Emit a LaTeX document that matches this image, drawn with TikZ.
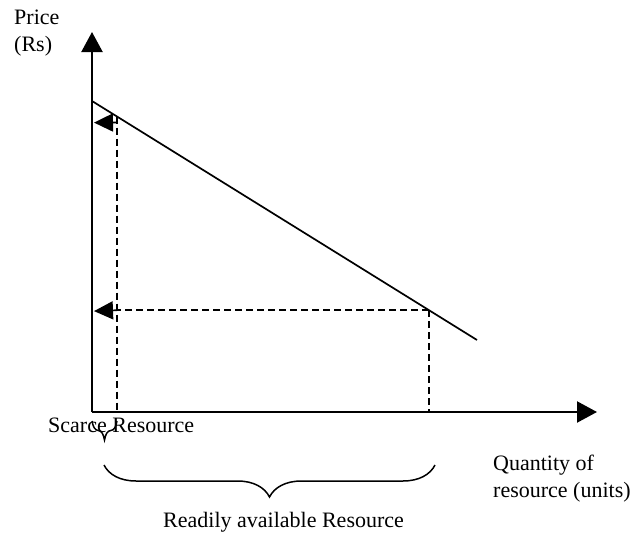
\documentclass[tikz,border=0pt]{standalone}
\usepackage{fontspec}
\setmainfont{Liberation Serif}
\usetikzlibrary{arrows.meta,calc,decorations.pathreplacing}
\begin{document}
\begin{tikzpicture}[x=1pt,y=-1pt,
  axis/.style={line width=2.2pt,-{Triangle[length=20pt,width=21pt]}},
  demand/.style={line width=1.7pt},
  guide/.style={line width=1.8pt,dash pattern=on 7pt off 4pt},
  readoff/.style={line width=1.6pt,-{Triangle[length=19pt,width=18pt]}},
  bracket/.style={line width=1.5pt,decorate,decoration={brace,mirror,amplitude=#1}},
  lbl/.style={font=\fontsize{22}{27}\selectfont,inner sep=0pt,anchor=base west,align=left}]
  \useasboundingbox (0,0) rectangle (635,533);

  % axes
  \coordinate (O) at (92,412);
  \coordinate (ytop) at (92,32);
  \coordinate (xend) at (597,412);
  \draw[axis] (O) -- (ytop);
  \draw[axis] (O) -- (xend);

  % demand line
  \coordinate (D1) at (92,101);
  \coordinate (D2) at (477,340);
  \draw[demand] (D1) -- (D2);

  % points on the line for the two quantities
  \coordinate (P1) at ($(D1)!0.0649!(D2)$);
  \coordinate (P2) at ($(D1)!0.8753!(D2)$);
  \coordinate (Q1) at (P1 |- O);
  \coordinate (Q2) at (P2 |- O);

  % dashed guides
  \draw[guide] (P1) -- (Q1);
  \draw[guide] (P2) -- (Q2);
  \draw[guide] (P2) -- (P1 |- P2);

  % price read-off arrows
  \coordinate (A1s) at ($(P1)+(0,6)$);
  \coordinate (A1e) at (94,122.6);
  \coordinate (A2s) at (P1 |- P2);
  \coordinate (A2e) at (94,311.1);
  \draw[readoff] (A1s) -- (A1e);
  \draw[readoff] (A2s) -- (A2e);

  % braces
  \coordinate (b1) at (92,421);
  \coordinate (b2) at (117,421);
  \coordinate (b3) at (104,465);
  \coordinate (b4) at (435,465);
  \draw[bracket=19pt] (b1) -- (b2);
  \draw[bracket=32pt] (b3) -- (b4);

  % labels
  \node[lbl] (price) at (14,51) {Price\\(Rs)};
  \node[lbl] (qty) at (493,497) {Quantity of\\resource (units)};
  \node[lbl] (scarce) at (48,432) {Scarce Resource};
  \node[lbl] (ready) at (163,527) {Readily available Resource};
\end{tikzpicture}
\end{document}
